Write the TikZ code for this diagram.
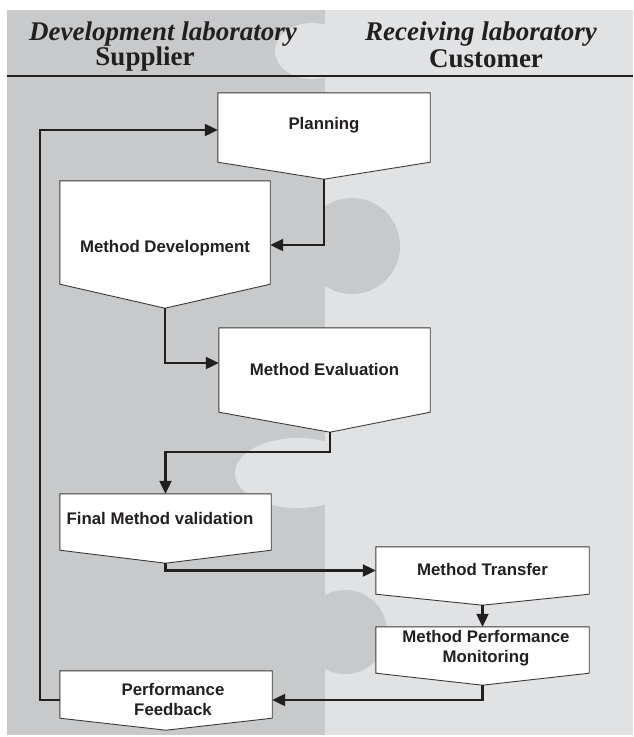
\documentclass[tikz,border=0pt]{standalone}
\usepackage{fontspec}
\setmainfont{Liberation Serif}
\setsansfont{Liberation Sans}
\usetikzlibrary{arrows.meta}

\definecolor{ink}{HTML}{231F20}
\definecolor{edge}{HTML}{3A3A3A}
\definecolor{supplier}{HTML}{C8C9CB}
\definecolor{customer}{HTML}{E1E2E4}

\begin{document}
\begin{tikzpicture}[x=1pt, y=-1pt,
	slot/.style={shape=rectangle, inner sep=0pt},
	box/.style={draw=edge, fill=white, line width=0.9pt},
	lbl/.style={font=\sffamily\bfseries\fontsize{16.8}{20}\selectfont, text=ink, align=center},
	head/.style={font=\rmfamily\bfseries\fontsize{27}{30}\selectfont, text=ink, anchor=base, inner sep=0pt},
	headit/.style={head, font=\rmfamily\bfseries\itshape\fontsize{27}{30}\selectfont},
	flow/.style={draw=ink, line width=2.2pt, -{Triangle[length=13pt, width=12pt]}}]

	\useasboundingbox (0,0) rectangle (633,737);

	\fill[supplier] (7,10) rectangle (325,735);
	\fill[customer] (325,10) rectangle (633,735);
	\fill[customer] (312,51) ellipse [x radius=37, y radius=28];
	\fill[supplier] (352,246) circle [radius=48];
	\fill[customer] (298,473) ellipse [x radius=63, y radius=35];
	\fill[supplier] (345,632) circle [radius=42];
	\draw[ink, line width=1.2pt] (7,76) -- (633,76);

	\node[headit] (devlab) at (163,40) {Development laboratory};
	\node[head] (supplier) at (145,65) {Supplier};
	\node[headit] (reclab) at (481,40) {Receiving laboratory};
	\node[head] (customer) at (486,67) {Customer};

	\node[slot, minimum width=212pt, minimum height=69pt] (plan) at (324,127.5) {};
	\coordinate (plan tip) at ([yshift=-17pt]plan.south);
	\filldraw[box] (plan.north west) -- (plan.north east) -- (plan.south east) -- (plan tip) -- (plan.south west) -- cycle;

	\node[slot, minimum width=210pt, minimum height=103pt] (md) at (165,232.5) {};
	\coordinate (md tip) at ([yshift=-24pt]md.south);
	\filldraw[box] (md.north west) -- (md.north east) -- (md.south east) -- (md tip) -- (md.south west) -- cycle;

	\node[slot, minimum width=211pt, minimum height=84pt] (me) at (324.5,370) {};
	\coordinate (me tip) at ([xshift=5.5pt, yshift=-20pt]me.south);
	\filldraw[box] (me.north west) -- (me.north east) -- (me.south east) -- (me tip) -- (me.south west) -- cycle;

	\node[slot, minimum width=211pt, minimum height=56pt] (fmv) at (165.5,522) {};
	\coordinate (fmv tip) at ([yshift=-13pt]fmv.south);
	\filldraw[box] (fmv.north west) -- (fmv.north east) -- (fmv.south east) -- (fmv tip) -- (fmv.south west) -- cycle;

	\node[slot, minimum width=213pt, minimum height=47pt] (mt) at (482.5,570.5) {};
	\coordinate (mt tip) at ([yshift=-11pt]mt.south);
	\filldraw[box] (mt.north west) -- (mt.north east) -- (mt.south east) -- (mt tip) -- (mt.south west) -- cycle;

	\node[slot, minimum width=213pt, minimum height=46pt] (mpm) at (482.5,650) {};
	\coordinate (mpm tip) at ([yshift=-12pt]mpm.south);
	\filldraw[box] (mpm.north west) -- (mpm.north east) -- (mpm.south east) -- (mpm tip) -- (mpm.south west) -- cycle;

	\node[slot, minimum width=212pt, minimum height=47pt] (pf) at (166,694.5) {};
	\coordinate (pf tip) at ([yshift=-12pt]pf.south);
	\filldraw[box] (pf.north west) -- (pf.north east) -- (pf.south east) -- (pf tip) -- (pf.south west) -- cycle;

	\node[lbl, anchor=base] (plantxt) at (324,129) {Planning};
	\node[lbl, anchor=base] (mdtxt) at (165,252) {Method Development};
	\node[lbl, anchor=base] (metxt) at (324.5,375) {Method Evaluation};
	\node[lbl, anchor=base] (fmvtxt) at (160,524) {Final Method validation};
	\node[lbl, anchor=base] (mttxt) at (482.5,575) {Method Transfer};
	\node[lbl] (mpmtxt) at (486,648.6) {Method Performance\\Monitoring};
	\node[lbl] (pftxt) at (173,699) {Performance\\Feedback};

	\coordinate (loop) at (40,130);

	\draw[flow] (plan tip) |- ([yshift=-12.5pt]md.east);
	\draw[flow] (md tip) |- ([yshift=7pt]me.west);
	\draw[flow] (me tip) -- ++(0,20) -| (fmv.north);
	\draw[flow] (fmv tip) |- (mt.west);
	\draw[flow] (mt tip) -- (mpm.north);
	\draw[flow] (mpm tip) |- ([yshift=-5.5pt]pf.east);
	\draw[flow] ([yshift=-5.5pt]pf.west) -| (loop) -- ([yshift=-2.5pt]plan.west);
\end{tikzpicture}
\end{document}
